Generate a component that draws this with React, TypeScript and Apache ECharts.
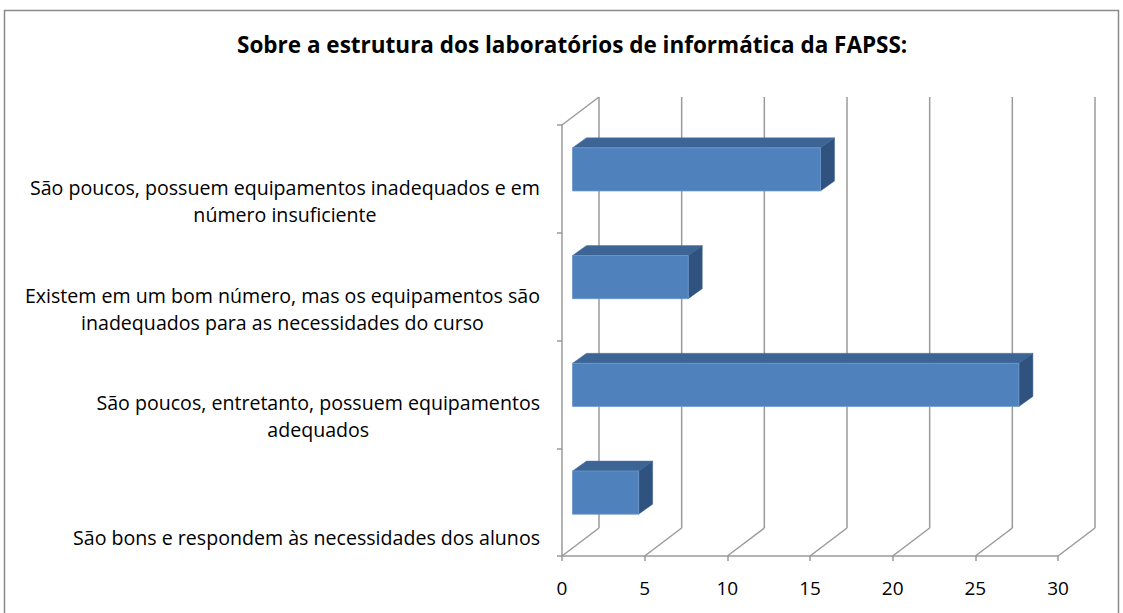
import React, { useEffect, useRef } from "react";
import * as echarts from "echarts";

const titleText = "Sobre a estrutura dos laboratórios de informática da FAPSS:";
const categories = [
  "São bons e respondem às necessidades dos alunos",
  "São poucos, entretanto, possuem equipamentos\nadequados",
  "Existem em um bom número, mas os equipamentos são\ninadequados para as necessidades do curso",
  "São poucos, possuem equipamentos inadequados e em\nnúmero insuficiente",
];
const values = [4, 27, 7, 15];
const xTicks = [0, 5, 10, 15, 20, 25, 30];

const FONT = "Open Sans";
const DX = 37;
const DY = -28;
const BX = 10.5;
const BY = -9.5;
const BDX = 14;
const BDY = -10;
const GRAY = "#9a9a9a";

export default function App() {
  const ref = useRef<HTMLDivElement>(null);
  useEffect(() => {
    if (!ref.current) return;
    const chart = echarts.init(ref.current, undefined, { renderer: "svg" });
    const option: any = {
      animation: false,
      backgroundColor: "#ffffff",
      title: {
        text: titleText,
        left: 237,
        top: 33,
        padding: 0,
        textStyle: { fontFamily: FONT, fontWeight: "bold", fontSize: 22.5, color: "#000" },
      },
      graphic: [
        {
          type: "rect",
          silent: true,
          shape: { x: 4.5, y: 10.5, width: 1114, height: 620 },
          style: { fill: "none", stroke: "#8a8a8a", lineWidth: 1.5 },
        },
      ],
      grid: { left: 562, right: 65, top: 125, bottom: 57, containLabel: false },
      xAxis: {
        type: "value",
        min: 0,
        max: 30,
        interval: 5,
        splitLine: { show: false },
        axisLine: { show: true, lineStyle: { color: GRAY, width: 1.5 } },
        axisTick: { show: true, length: 5, lineStyle: { color: GRAY, width: 1.5 } },
        axisLabel: { margin: 22, fontFamily: FONT, fontSize: 19, color: "#000" },
      },
      yAxis: {
        type: "category",
        data: categories,
        axisLine: { show: true, lineStyle: { color: GRAY, width: 1.5 } },
        axisTick: { show: true, length: 5, lineStyle: { color: GRAY, width: 1.5 } },
        splitLine: { show: false },
        axisLabel: {
          margin: 22,
          align: "right",
          verticalAlign: "middle",
          padding: [44, 0, 0, 0],
          formatter: (v: string) => {
            const lines = v.split("\n");
            if (lines.length === 1) lines.unshift(" ");
            return lines.map((l) => "{c|" + l + "}").join("\n");
          },
          rich: {
            c: { align: "center", fontFamily: FONT, fontSize: 19.6, lineHeight: 27, color: "#000" },
          },
        },
      },
      series: [
        {
          type: "custom",
          name: "walls",
          silent: true,
          clip: false,
          data: xTicks.map((t) => [t, 0]),
          encode: { x: 0, y: 1 },
          renderItem: (params: any, api: any) => {
            const v = api.value(0);
            const cs = params.coordSys;
            const x = api.coord([v, 0])[0];
            const top = cs.y;
            const bottom = cs.y + cs.height;
            const ls = { stroke: GRAY, lineWidth: 1.5 };
            const children: any[] = [
              { type: "line", shape: { x1: x, y1: bottom, x2: x + DX, y2: bottom + DY }, style: ls },
              { type: "line", shape: { x1: x + DX, y1: bottom + DY, x2: x + DX, y2: top + DY }, style: ls },
            ];
            if (params.dataIndex === 0) {
              children.push({ type: "line", shape: { x1: x, y1: top, x2: x + DX, y2: top + DY }, style: ls });
            }
            return { type: "group", children };
          },
        },
        {
          type: "custom",
          name: "Respostas",
          clip: false,
          data: values.map((v, i) => [v, i]),
          encode: { x: 0, y: 1 },
          renderItem: (params: any, api: any) => {
            const v = api.value(0);
            const c = api.value(1);
            const p0 = api.coord([0, c]);
            const p1 = api.coord([v, c]);
            const band = api.size([0, 1])[1];
            const h = band * 0.4;
            const x0 = p0[0] + BX;
            const x1 = p1[0] + BX;
            const yc = p0[1] + BY;
            const yt = yc - h / 2;
            const yb = yc + h / 2;
            return {
              type: "group",
              children: [
                {
                  type: "polygon",
                  shape: { points: [[x0, yt], [x0 + BDX, yt + BDY], [x1 + BDX, yt + BDY], [x1, yt]] },
                  style: { fill: "#3c6596", stroke: "#4a74a8", lineWidth: 0.5 },
                },
                {
                  type: "polygon",
                  shape: { points: [[x1, yt], [x1 + BDX, yt + BDY], [x1 + BDX, yb + BDY], [x1, yb]] },
                  style: { fill: "#2f527e", stroke: "#3d6391", lineWidth: 0.5 },
                },
                {
                  type: "rect",
                  shape: { x: x0, y: yt, width: x1 - x0, height: h },
                  style: { fill: "#4f81bd", stroke: "#6c97cc", lineWidth: 0.8 },
                },
              ],
            };
          },
        },
      ],
    };
    chart.setOption(option);
    return () => chart.dispose();
  }, []);
  return (
    <div
      ref={ref}
      style={{ position: "fixed", left: 0, top: 0, width: 1123, height: 613, background: "#fff" }}
    />
  );
}
